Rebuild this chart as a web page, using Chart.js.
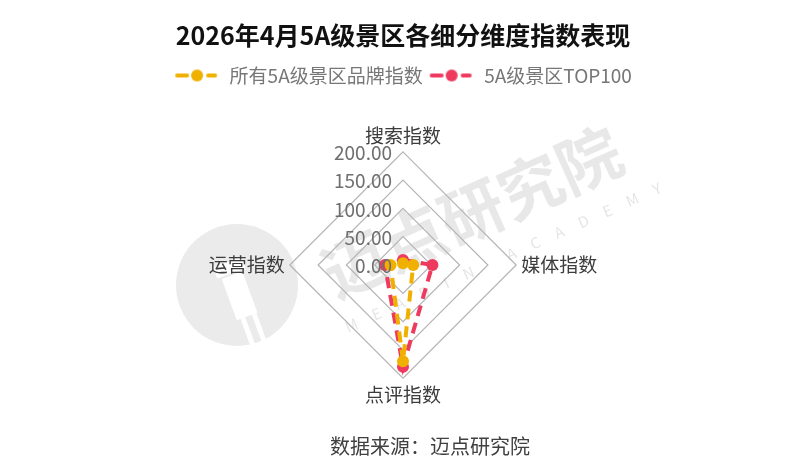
<!DOCTYPE html>
<html>
<head>
<meta charset="utf-8">
<script src="https://cdn.jsdelivr.net/npm/chart.js@4.4.1/dist/chart.umd.min.js"></script>
<style>
  html, body { margin: 0; padding: 0; background: #fff; }
  #wrap { width: 800px; height: 467px; }
</style>
</head>
<body>
<div id="wrap"><canvas id="radarChart" width="800" height="467"></canvas></div>
<script>
// data
const dimensions = ['搜索指数', '媒体指数', '点评指数', '运营指数'];
const allScenic = [3, 18, 170, 22];
const top100 = [9, 52, 180, 32];
const tickValues = [0, 50, 100, 150, 200];
const seriesNames = ['所有5A级景区品牌指数', '5A级景区TOP100'];
const sourceNote = '数据来源：迈点研究院';

const YELLOW = '#F0B000';
const RED = '#EE3A5E';
const FONT = '"Noto Sans CJK SC", "Noto Sans", sans-serif';

// legend marker: - ● -
function legendMarker(color) {
    const c = document.createElement('canvas');
    c.width = 46;
    c.height = 14;
    const g = c.getContext('2d');
    g.strokeStyle = color;
    g.fillStyle = color;
    g.lineWidth = 4;
    g.lineCap = 'round';
    g.beginPath();
    g.moveTo(3, 7); g.lineTo(13, 7);
    g.moveTo(34, 7); g.lineTo(41, 7);
    g.stroke();
    g.beginPath();
    g.arc(23, 7, 6, 0, Math.PI * 2);
    g.fill();
    return c;
}

// extra room under the legend
const legendMargin = {
    id: 'legendMargin',
    beforeInit(chart) {
        const fit = chart.legend.fit;
        chart.legend.fit = function () {
            fit.bind(chart.legend)();
            this.height += 29;
        };
    }
};

// tick labels sit left of the vertical axis, source note at the bottom
const textPlugin = {
    id: 'extraText',
    afterDatasetsDraw(chart) {
        const scale = chart.scales.r;
        const ctx = chart.ctx;
        ctx.save();
        ctx.font = '19px ' + FONT;
        ctx.fillStyle = '#6f6f6f';
        ctx.textAlign = 'right';
        ctx.textBaseline = 'middle';
        tickValues.forEach(function (v) {
            const d = scale.getDistanceFromCenterForValue(v);
            ctx.fillText(v.toFixed(2), scale.xCenter - 11, scale.yCenter - d + 1);
        });
        ctx.font = '20px ' + FONT;
        ctx.fillStyle = '#404040';
        ctx.textAlign = 'center';
        ctx.fillText(sourceNote, 430, 446);
        ctx.restore();
    }
};

// faint brand watermark behind the chart
const watermarkPlugin = {
    id: 'watermark',
    beforeDraw(chart) {
        const ctx = chart.ctx;
        ctx.save();
        ctx.fillStyle = '#ebebeb';
        ctx.beginPath();
        ctx.arc(237, 285, 61, 0, Math.PI * 2);
        ctx.fill();
        // simple white mark inside the circle
        ctx.save();
        ctx.translate(240, 300);
        ctx.rotate(-0.35);
        ctx.fillStyle = '#fff';
        ctx.fillRect(-14, -40, 30, 12);
        ctx.fillRect(-10, -26, 22, 44);
        ctx.fillRect(-6, 18, 5, 36);
        ctx.fillRect(6, 18, 5, 36);
        ctx.restore();
        ctx.translate(472, 212);
        ctx.rotate(-0.42);
        ctx.font = 'bold 64px ' + FONT;
        ctx.textAlign = 'center';
        ctx.textBaseline = 'middle';
        ctx.fillStyle = 'rgba(0,0,0,0.09)';
        ctx.fillText('迈点研究院', 0, 0);
        ctx.font = '15px ' + FONT;
        ctx.fillStyle = 'rgba(0,0,0,0.11)';
        ctx.fillText('M  E  A  D  I  N     A  C  A  D  E  M  Y'.split('').join(' '), 10, 54);
        ctx.restore();
    }
};

function makeDataset(label, data, color) {
    return {
        label: label,
        data: data,
        fill: false,
        borderColor: color,
        backgroundColor: color,
        borderWidth: 4,
        borderDash: [11, 7],
        pointRadius: 6,
        pointHoverRadius: 6,
        pointBackgroundColor: color,
        pointBorderColor: color,
        pointBorderWidth: 0
    };
}

const markers = [legendMarker(YELLOW), legendMarker(RED)];

new Chart(document.getElementById('radarChart').getContext('2d'), {
    type: 'radar',
    data: {
        labels: dimensions,
        datasets: [
            makeDataset(seriesNames[0], allScenic, YELLOW),
            makeDataset(seriesNames[1], top100, RED)
        ]
    },
    options: {
        responsive: false,
        animation: false,
        layout: { padding: { top: 0, bottom: 60, left: 6 } },
        scales: {
            r: {
                min: 0,
                max: 200,
                ticks: { stepSize: 50, display: false },
                angleLines: { display: false },
                grid: { color: '#b4b4b4', lineWidth: 1.2 },
                pointLabels: {
                    color: '#3c3c3c',
                    padding: 5,
                    font: { size: 19, family: FONT }
                }
            }
        },
        plugins: {
            title: {
                display: true,
                text: '2026年4月5A级景区各细分维度指数表现',
                color: '#111',
                font: { size: 25, weight: 'bold', family: FONT },
                padding: { top: 20, bottom: 10 }
            },
            legend: {
                labels: {
                    usePointStyle: true,
                    pointStyleWidth: 46,
                    color: '#777',
                    font: { size: 19, family: FONT },
                    padding: 6,
                    generateLabels: function (chart) {
                        return chart.data.datasets.map(function (ds, i) {
                            return {
                                text: ds.label,
                                fillStyle: ds.borderColor,
                                strokeStyle: ds.borderColor,
                                fontColor: '#777',
                                pointStyle: markers[i],
                                lineWidth: 0,
                                hidden: false,
                                datasetIndex: i
                            };
                        });
                    }
                }
            },
            tooltip: { enabled: false }
        }
    },
    plugins: [legendMargin, watermarkPlugin, textPlugin]
});
</script>
</body>
</html>
